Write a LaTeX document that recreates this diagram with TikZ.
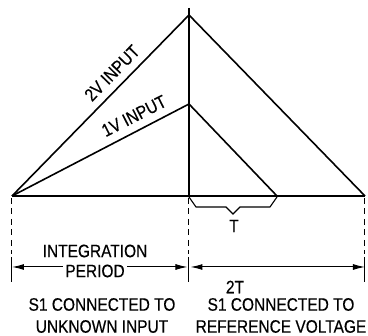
\documentclass[tikz,border=0pt]{standalone}
\usepackage{fontspec}
\setmainfont{Liberation Sans}[FakeStretch=0.86, FakeBold=0.4]
\usetikzlibrary{arrows.meta, positioning}

\begin{document}
\begin{tikzpicture}[x=1pt, y=-1pt, font=\fontsize{18}{22}\selectfont,
    ramp/.style={line width=1.6pt, line join=miter},
    guide/.style={line width=1pt, dash pattern=on 6pt off 4.5pt},
    dimline/.style={line width=1pt, {Latex[length=12pt,width=6pt]}-{Latex[length=12pt,width=6pt]}},
    caption/.style={align=center, inner sep=0pt}]
\useasboundingbox (0,0) rectangle (368,336);
% corners of the two ramps
\coordinate (start) at (12,196);
\coordinate (peakhi) at (189,15);
\coordinate (peaklo) at (189,104);
\coordinate (endhi) at (365,196);
\coordinate (endlo) at (277,196);
\coordinate (mark) at (189,8);
\coordinate (mid) at (189,196);
\draw[line width=1.2pt] (start) -- (endhi);
\draw[line width=1.2pt] (mark) -- (mid);
\draw[ramp] (start) -- (peakhi) -- (endhi);
\draw[ramp] (start) -- (peaklo) -- (endlo);
\node[rotate=45.6] (twovin) at (112,73) {2V INPUT};
\node[rotate=27] (onevin) at (134,116) {1V INPUT};
% brace under the short discharge
\coordinate (bracetip) at (233,214);
\draw[line width=1.1pt] (189,197) -- (196,207) -- (226,207) -- (bracetip) -- (240,207) -- (270,207) -- (277,197);
\node[inner sep=0pt] (tlabel) at (234,226) {T};
% guides and dimension arrows
\foreach \x/\n in {12/l, 189/m, 365/r} {
    \coordinate (top\n) at (\x,198);
    \coordinate (brk\n) at (\x,254);
    \coordinate (bot\n) at (\x,282);
    \coordinate (dim\n) at (\x,267);
    \draw[guide] (top\n) -- (brk\n);
    \draw[line width=1pt] (brk\n) ++(0,3) -- (bot\n);
}
\draw[dimline, shorten >=1.5pt] (diml) -- (dimm);
\draw[dimline, shorten <=1.5pt] (dimm) -- (dimr);
\node (integ) at (95,251) {INTEGRATION};
\node[fill=white, inner xsep=2pt, inner ysep=1pt] (period) at (95,271) {PERIOD};
\node[inner sep=0pt] (twot) at (235,287) {2T};
\node[caption] (leftcap) at (102,315.5) {S1 CONNECTED TO\\UNKNOWN INPUT};
\node[caption] (rightcap) at (281,315.5) {S1 CONNECTED TO\\REFERENCE VOLTAGE};
\end{tikzpicture}
\end{document}
